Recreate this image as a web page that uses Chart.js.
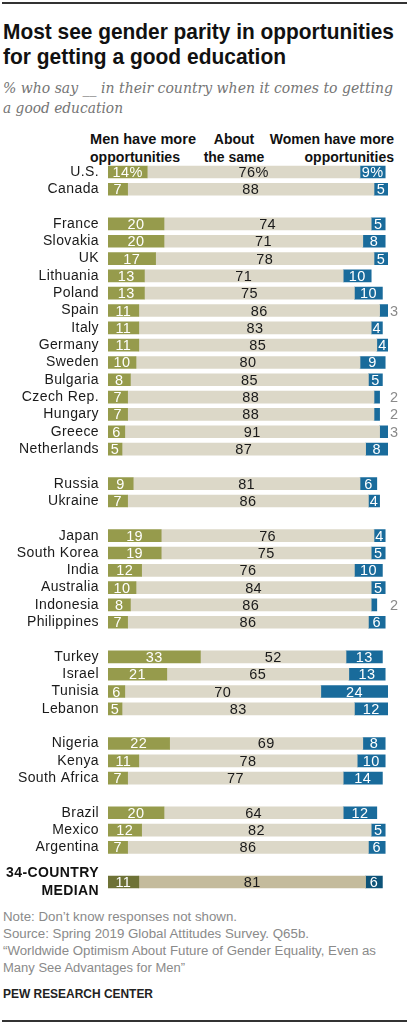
<!DOCTYPE html>
<html>
<head>
<meta charset="utf-8">
<script src="https://cdn.jsdelivr.net/npm/chart.js@4/dist/chart.umd.min.js"></script>
<style>
  html, body { margin: 0; padding: 0; background: #fff; }
  body { width: 409px; height: 1025px; position: relative; overflow: hidden; }
  .rule { position: absolute; left: 2px; width: 405px; height: 2px; background: #333; }
  #chartWrap { position: absolute; left: 0; top: 160px; width: 409px; height: 740px; }
  svg.txt { position: absolute; left: 0; top: 0; }
</style>
</head>
<body>
<div class="rule" style="top:2px"></div>
<div class="rule" style="top:1020px"></div>

<svg class="txt" width="409" height="1025" xmlns="http://www.w3.org/2000/svg">
  <g font-family="'Liberation Sans', Arial, sans-serif" font-weight="bold" fill="#111" font-size="21.5">
    <text x="3" y="39" textLength="391" lengthAdjust="spacingAndGlyphs">Most see gender parity in opportunities</text>
    <text x="3" y="64" textLength="283" lengthAdjust="spacingAndGlyphs">for getting a good education</text>
  </g>
  <g font-family="'DejaVu Serif', Georgia, serif" font-style="italic" fill="#757575" font-size="15">
    <text x="3" y="93" textLength="390" lengthAdjust="spacingAndGlyphs">% who say __ in their country when it comes to getting</text>
    <text x="3" y="113" textLength="120" lengthAdjust="spacingAndGlyphs">a good education</text>
  </g>
  <g font-family="'Liberation Sans', Arial, sans-serif" font-weight="bold" fill="#111" font-size="14">
    <text x="90" y="144" textLength="106" lengthAdjust="spacingAndGlyphs">Men have more</text>
    <text x="90" y="162" textLength="90" lengthAdjust="spacingAndGlyphs">opportunities</text>
    <text x="234" y="144" text-anchor="middle">About</text>
    <text x="234" y="162" text-anchor="middle">the same</text>
    <text x="394" y="144" text-anchor="end">Women have more</text>
    <text x="394" y="162" text-anchor="end">opportunities</text>
  </g>
  <g font-family="'Liberation Sans', Arial, sans-serif" fill="#8a8a8a" font-size="12.5">
    <text x="3" y="921" textLength="234" lengthAdjust="spacingAndGlyphs">Note: Don’t know responses not shown.</text>
    <text x="3" y="938" textLength="306" lengthAdjust="spacingAndGlyphs">Source: Spring 2019 Global Attitudes Survey. Q65b.</text>
    <text x="3" y="955" textLength="373" lengthAdjust="spacingAndGlyphs">“Worldwide Optimism About Future of Gender Equality, Even as</text>
    <text x="3" y="972" textLength="182" lengthAdjust="spacingAndGlyphs">Many See Advantages for Men”</text>
  </g>
  <text x="3" y="998" font-family="'Liberation Sans', Arial, sans-serif" font-weight="bold" fill="#222" font-size="12.5" textLength="150" lengthAdjust="spacingAndGlyphs">PEW RESEARCH CENTER</text>
</svg>

<div id="chartWrap"><canvas id="c" width="409" height="740"></canvas></div>

<script>
// Row labels ("" = spacer rows between regional groups)
const countries = [
  "U.S.", "Canada", "",
  "France", "Slovakia", "UK", "Lithuania", "Poland", "Spain", "Italy", "Germany",
  "Sweden", "Bulgaria", "Czech Rep.", "Hungary", "Greece", "Netherlands", "",
  "Russia", "Ukraine", "",
  "Japan", "South Korea", "India", "Australia", "Indonesia", "Philippines", "",
  "Turkey", "Israel", "Tunisia", "Lebanon", "",
  "Nigeria", "Kenya", "South Africa", "",
  "Brazil", "Mexico", "Argentina", "",
  ["34-COUNTRY", "MEDIAN"]
];
const menMore = [
  14, 7, null,
  20, 20, 17, 13, 13, 11, 11, 11, 10, 8, 7, 7, 6, 5, null,
  9, 7, null,
  19, 19, 12, 10, 8, 7, null,
  33, 21, 6, 5, null,
  22, 11, 7, null,
  20, 12, 7, null,
  11
];
const aboutSame = [
  76, 88, null,
  74, 71, 78, 71, 75, 86, 83, 85, 80, 85, 88, 88, 91, 87, null,
  81, 86, null,
  76, 75, 76, 84, 86, 86, null,
  52, 65, 70, 83, null,
  69, 78, 77, null,
  64, 82, 86, null,
  81
];
const womenMore = [
  9, 5, null,
  5, 8, 5, 10, 10, 3, 4, 4, 9, 5, 2, 2, 3, 8, null,
  6, 4, null,
  4, 5, 10, 5, 2, 6, null,
  13, 13, 24, 12, null,
  8, 10, 14, null,
  12, 5, 6, null,
  6
];
const seriesNames = ["Men have more opportunities", "About the same", "Women have more opportunities"];

const MEDIAN_IDX = countries.length - 1;
const colors = {
  normal: ["#969b4c", "#dcd8c8", "#196b9b"],
  median: ["#6e7236", "#c4bb9c", "#0d5378"]
};
const colorFor = (ds) => (ctx) => ctx.dataIndex === MEDIAN_IDX ? colors.median[ds] : colors.normal[ds];

const labelPlugin = {
  id: 'segLabels',
  beforeDraw(chart) { chart.ctx.letterSpacing = '0.4px'; },
  afterDatasetsDraw(chart) {
    const ctx = chart.ctx;
    ctx.save();
    ctx.font = "14.5px 'Liberation Sans', Arial, sans-serif";
    ctx.textBaseline = 'middle';
    chart.data.datasets.forEach((ds, di) => {
      const meta = chart.getDatasetMeta(di);
      meta.data.forEach((el, i) => {
        const v = ds.data[i];
        if (v == null) return;
        const txt = String(v) + (i === 0 ? '%' : '');
        const y = el.y + 1;
        if (di === 2 && v <= 3) {
          ctx.fillStyle = '#8a8a8a';
          ctx.textAlign = 'left';
          ctx.fillText(txt, chart.chartArea.right + 2, y);
          return;
        }
        ctx.fillStyle = di === 1 ? '#1a1a1a' : '#ffffff';
        ctx.textAlign = 'center';
        ctx.fillText(txt, (el.x + el.base) / 2, y);
      });
    });
    ctx.restore();
  }
};

new Chart(document.getElementById('c'), {
  type: 'bar',
  data: {
    labels: countries,
    datasets: [
      { label: seriesNames[0], data: menMore, backgroundColor: colorFor(0) },
      { label: seriesNames[1], data: aboutSame, backgroundColor: colorFor(1) },
      { label: seriesNames[2], data: womenMore, backgroundColor: colorFor(2) }
    ]
  },
  options: {
    indexAxis: 'y',
    responsive: false,
    devicePixelRatio: 1,
    animation: false,
    layout: { padding: { top: 3.3, bottom: 9.3, left: 0, right: 21 } },
    datasets: { bar: { barThickness: 12, borderWidth: 0 } },
    plugins: { legend: { display: false }, tooltip: { enabled: false } },
    scales: {
      x: { stacked: true, min: 0, max: 100, display: false },
      y: {
        stacked: true,
        grid: { display: false, drawTicks: false },
        border: { display: false },
        afterFit(scale) {
          scale.width = 108;
          scale.paddingTop = 0;
          scale.paddingBottom = 0;
        },
        ticks: {
          autoSkip: false,
          padding: 9,
          color: (c) => c.index === MEDIAN_IDX ? '#111' : '#1a1a1a',
          font: (c) => c.index === MEDIAN_IDX
            ? { family: "'Liberation Sans', Arial, sans-serif", size: 14, weight: 'bold', lineHeight: 1.3 }
            : { family: "'Liberation Sans', Arial, sans-serif", size: 14, weight: 'normal' }
        }
      }
    }
  },
  plugins: [labelPlugin]
});
</script>
</body>
</html>
